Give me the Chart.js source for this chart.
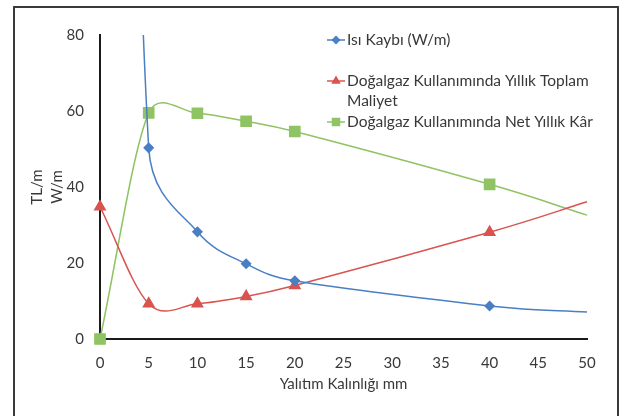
<!DOCTYPE html>
<html>
<head>
<meta charset="utf-8">
<script src="https://cdn.jsdelivr.net/npm/chart.js@4.4.1/dist/chart.umd.min.js"></script>
<style>
  html, body { margin: 0; padding: 0; background: #fff; overflow: hidden; }
  #wrap { position: relative; width: 638px; height: 416px; }
  #frame { position: absolute; left: 13px; top: 6px; width: 606px; height: 430px;
           box-sizing: border-box; border: 2px solid #3a3a3a; pointer-events: none; }
  canvas { position: absolute; left: 0; top: 0; }
</style>
</head>
<body>
<div id="wrap">
  <canvas id="chart" width="638" height="416"></canvas>
  <div id="frame"></div>
</div>
<script>
// insulation thickness (mm)
const thickness = [0, 5, 10, 15, 20, 40, 50]
// heat loss W/m (first value is off the scale, line only)
const heatLoss = [480, 50.3, 28.2, 19.8, 15.3, 8.7, 7.1]
// yearly total cost with natural gas, TL/m
const totalCost = [34.8, 9.3, 9.3, 11.2, 14.1, 28.1, 36.1]
// yearly net profit with natural gas, TL/m
const netProfit = [0, 59.5, 59.4, 57.3, 54.6, 40.7, 32.6]

const heatMarkers = [0, 4.5, 4.5, 4.5, 4.5, 4.5, 0]
const costMarkers = [6, 6, 6, 6, 6, 6, 0]
const profitMarkers = [7.2, 7.2, 7.2, 7.2, 7.2, 7.2, 0]

const legendText = [
  ['Isı Kaybı (W/m)'],
  ['Doğalgaz Kullanımında Yıllık Toplam', 'Maliyet'],
  ['Doğalgaz Kullanımında Net Yıllık Kâr']
]

const BLUE = '#4a7fc4'
const RED = '#d9534f'
const GREEN = '#8fc363'
const TEXT = '#383838'

function pairs(ys) {
  return thickness.map((x, i) => ({x: x, y: ys[i]}))
}

Chart.defaults.font.family = 'Lato'
Chart.defaults.font.size = 15
Chart.defaults.color = TEXT

// office-style smoothing: tangent = (next - prev) / 6, but never longer
// than half of the segment it reaches into
const officeSmooth = {
  id: 'officeSmooth',
  beforeDatasetDraw(chart, args) {
    const pts = args.meta.data
    const n = pts.length
    const cap = (vx, vy, max) => {
      const l = Math.hypot(vx, vy)
      const s = l > max ? max / l : 1
      return [vx * s, vy * s]
    }
    pts.forEach((p, i) => {
      const prev = pts[i - 1] || p
      const next = pts[i + 1] || p
      let vx = (next.x - prev.x) / 6
      let vy = (next.y - prev.y) / 6
      if (i === 0 || i === n - 1) { vx *= 2; vy *= 2 }
      const a = cap(vx, vy, Math.hypot(p.x - prev.x, p.y - prev.y) / 2)
      const b = cap(vx, vy, Math.hypot(next.x - p.x, next.y - p.y) / 2)
      p.cp1x = p.x - a[0]; p.cp1y = p.y - a[1]
      p.cp2x = p.x + b[0]; p.cp2y = p.y + b[1]
    })
    args.meta.dataset._pointsUpdated = true
  }
}

// legend sits inside the plot, top right, with a wrapped second entry
const sideLegend = {
  id: 'sideLegend',
  afterDraw(chart) {
    const ctx = chart.ctx
    const rows = [40, 81, 122]
    ctx.save()
    chart.data.datasets.forEach((ds, i) => {
      const y = rows[i]
      ctx.strokeStyle = ds.borderColor
      ctx.lineWidth = 1.5
      ctx.beginPath()
      ctx.moveTo(327, y)
      ctx.lineTo(345, y)
      ctx.stroke()
      ctx.fillStyle = ds.backgroundColor
      Chart.helpers.drawPoint(ctx, {
        pointStyle: ds.pointStyle,
        radius: ds.legendRadius,
        rotation: 0,
        borderWidth: 0
      }, 336, y)
      ctx.fillStyle = TEXT
      ctx.font = '15.5px Lato'
      ctx.textBaseline = 'middle'
      legendText[i].forEach((line, j) => ctx.fillText(line, 347, y + j * 20))
    })
    ctx.restore()
  }
}

const axisLine = {color: '#1a1a1a', width: 2}

new Chart(document.getElementById('chart'), {
  type: 'line',
  data: {
    datasets: [{
      label: legendText[0].join(' '),
      data: pairs(heatLoss),
      borderColor: BLUE,
      backgroundColor: BLUE,
      pointStyle: 'rectRot',
      pointRadius: heatMarkers,
      legendRadius: 4.5,
      borderWidth: 1.5,
      tension: 0.4,
      clip: 0
    }, {
      label: legendText[1].join(' '),
      data: pairs(totalCost),
      borderColor: RED,
      backgroundColor: RED,
      pointStyle: 'triangle',
      pointRadius: costMarkers,
      legendRadius: 5.5,
      borderWidth: 1.5,
      tension: 0.4,
      clip: false
    }, {
      label: legendText[2].join(' '),
      data: pairs(netProfit),
      borderColor: GREEN,
      backgroundColor: GREEN,
      pointStyle: 'rect',
      pointRadius: profitMarkers,
      legendRadius: 6,
      borderWidth: 1.5,
      tension: 0.4,
      clip: false
    }]
  },
  options: {
    responsive: false,
    animation: false,
    elements: {line: {capBezierPoints: false}, point: {borderWidth: 0}},
    layout: {padding: {left: 0, top: 35, right: 51, bottom: 0}},
    plugins: {legend: {display: false}, tooltip: {enabled: false}},
    scales: {
      x: {
        type: 'linear',
        min: 0,
        max: 50,
        ticks: {stepSize: 5, padding: 15, color: TEXT},
        grid: {drawOnChartArea: false, drawTicks: false},
        border: axisLine,
        title: {display: true, text: 'Yalıtım Kalınlığı mm', color: TEXT,
                padding: {top: 0, bottom: 23}},
        afterFit(scale) { scale.height = 77 }
      },
      y: {
        min: 0,
        max: 80,
        ticks: {stepSize: 20, padding: 16, color: TEXT},
        grid: {drawOnChartArea: false, drawTicks: false},
        border: axisLine,
        title: {display: true, text: ['TL/m', 'W/m'], color: TEXT,
                font: {lineHeight: 1.33}, padding: {top: 27, bottom: 0}},
        afterFit(scale) { scale.width = 100 }
      }
    }
  },
  plugins: [officeSmooth, sideLegend]
})
</script>
</body>
</html>
